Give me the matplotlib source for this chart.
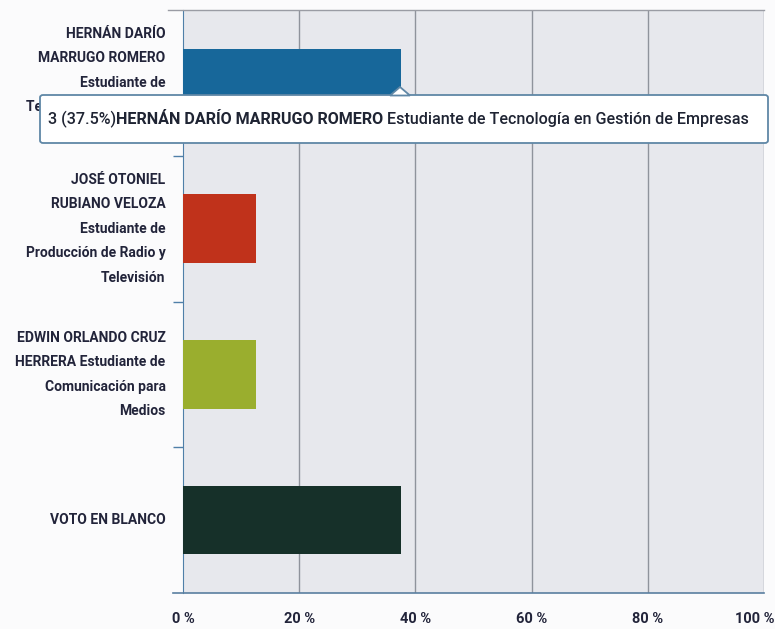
import matplotlib.pyplot as plt
from matplotlib.patches import FancyBboxPatch, Polygon
import matplotlib.transforms as mtrans
import numpy as np

labels = [
    "HERNÁN DARÍO\nMARRUGO ROMERO\nEstudiante de\nTecnología en Gestión\nde Empresas",
    "JOSÉ OTONIEL\nRUBIANO VELOZA\nEstudiante de\nProducción de Radio y\nTelevisión",
    "EDWIN ORLANDO CRUZ\nHERRERA Estudiante de\nComunicación para\nMedios",
    "VOTO EN BLANCO",
]
votes = [3, 1, 1, 3]
colors = ["#17679a", "#c0321b", "#9aae2e", "#163029"]
xticks = [0, 20, 40, 60, 80, 100]
tip_count = "3 (37.5%)"
tip_name = "HERNÁN DARÍO MARRUGO ROMERO"
tip_rest = " Estudiante de Tecnología en Gestión de Empresas"

FONT = ["Roboto", "DejaVu Sans"]
TXT = "#22243a"

total = sum(votes)
pct = [v * 100.0 / total for v in votes]

fig = plt.figure(figsize=(7.75, 6.29), dpi=100)
fig.patch.set_facecolor("#fbfbfc")
ax = fig.add_axes([183 / 775, 36 / 629, 581 / 775, 583 / 629])
ax.set_facecolor("#e7e8ed")

y = np.arange(len(labels))
ax.barh(y, pct, height=0.47, color=colors, zorder=3)
ax.set_xlim(0, 100)
ax.set_ylim(len(labels) - 0.5, -0.5)

for g in xticks[1:]:
    ax.axvline(g, color="#8f939c", lw=1.0, zorder=1)

for s in ["top", "right", "bottom"]:
    ax.spines[s].set_visible(False)
ax.spines["left"].set_color("#4f7fa8")
ax.plot([-1.8, 100], [3.5, 3.5], color="#5a7fa0", lw=1.2, clip_on=False, zorder=4)
ax.plot([-2.6, 100], [-0.5, -0.5], color="#9a9ca4", lw=1.0, clip_on=False, zorder=4)

ax.set_yticks(y)
ax.set_yticklabels([])
ax.tick_params(axis="y", which="major", length=0)
ax.set_yticks([0.5, 1.5, 2.5], minor=True)
ax.tick_params(axis="y", which="minor", length=7, color="#4f7fa8", width=1)
for yi, lab in zip(y, labels):
    ax.text(-3.0, yi, lab, ha="right", va="center", fontsize=10,
            family=FONT, color=TXT, linespacing=1.95, fontweight="bold")

ax.set_xticks(xticks)
ax.set_xticklabels([f"{t} %" for t in xticks], family=FONT, fontsize=10.5,
                   fontweight="bold", color=TXT)
ax.tick_params(axis="x", length=0, pad=14)
last = ax.get_xticklabels()[-1]
last.set_transform(last.get_transform() +
                   mtrans.ScaledTranslation(-9 / 100, 0, fig.dpi_scale_trans))

# tooltip
box = FancyBboxPatch((40 / 775, 1 - 143 / 629), 728 / 775, 48 / 629,
                     boxstyle="round,pad=0,rounding_size=0.004",
                     transform=fig.transFigure, facecolor="white",
                     edgecolor="#5f87a6", lw=1.3, zorder=10)
fig.patches.append(box)
tri = Polygon([(390 / 775, 1 - 95.5 / 629), (400 / 775, 1 - 87 / 629),
               (410 / 775, 1 - 95.5 / 629)], closed=True,
              transform=fig.transFigure, facecolor="white",
              edgecolor="#5f87a6", lw=1.3, zorder=11)
fig.patches.append(tri)

fig.canvas.draw()
r = fig.canvas.get_renderer()
x0 = 48
ty = 1 - 119 / 629
for part, w in [(tip_count, "medium"), (tip_name, "bold"), (tip_rest, "medium")]:
    t = fig.text(x0 / 775, ty, part, ha="left", va="center", fontsize=11.6,
                 family=FONT, fontweight=w, color="#1f2433", zorder=12)
    x0 = t.get_window_extent(r).x1

fig.savefig("out.png", dpi=100, facecolor=fig.get_facecolor())
